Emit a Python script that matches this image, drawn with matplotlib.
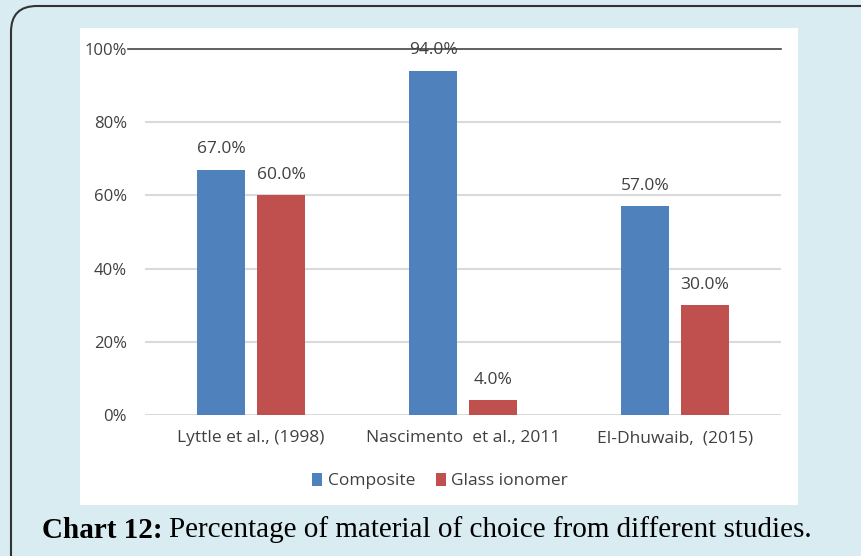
import matplotlib
matplotlib.use("Agg")
import matplotlib.pyplot as plt
from matplotlib.patches import FancyBboxPatch, Rectangle, Patch
import numpy as np

studies = ["Lyttle et al., (1998)", "Nascimento  et al., 2011", "El-Dhuwaib,  (2015)"]
composite = [67.0, 94.0, 57.0]
glass_ionomer = [60.0, 4.0, 30.0]
series_names = ["Composite", "Glass ionomer"]
y_ticks = [0, 20, 40, 60, 80, 100]

blue = "#4F81BD"
red = "#C0504D"
txt = "#404040"
font = "Open Sans"

fig = plt.figure(figsize=(8.62, 5.56), dpi=100)
fig.patch.set_facecolor("#d8ecf1")

# rounded frame running off the right/bottom edge
frame = FancyBboxPatch((11 / 862, -0.05), 1.2, (550 / 556) + 0.05, boxstyle="round,pad=0,rounding_size=0.03",
                       transform=fig.transFigure, facecolor="none", edgecolor="#333333", linewidth=1.5,
                       mutation_aspect=862 / 556, zorder=-2)
fig.patches.append(frame)

# white chart panel
panel = Rectangle((80 / 862, (556 - 505) / 556), 718 / 862, 477 / 556, transform=fig.transFigure,
                  facecolor="white", edgecolor="none", zorder=-1)
fig.patches.append(panel)

ax = fig.add_axes([145 / 862, (556 - 415) / 556, 636 / 862, 366 / 556])
ax.set_facecolor("none")

x = np.arange(len(studies))
w = 0.222
off = 0.1415
b1 = ax.bar(x - off, composite, w, color=blue, zorder=3)
b2 = ax.bar(x + off, glass_ionomer, w, color=red, zorder=3)

for bars, vals in [(b1, composite), (b2, glass_ionomer)]:
    for rect, v in zip(bars, vals):
        ax.annotate(f"{v:.1f}%", (rect.get_x() + rect.get_width() / 2, v), xytext=(0, 9),
                    textcoords="offset points", ha="center", va="bottom", fontsize=12.5,
                    color=txt, family=font, zorder=4)

ax.set_xlim(-0.5, 2.5)
ax.set_ylim(0, 100)
ax.set_yticks(y_ticks)
ax.set_yticklabels([f"{t}%" for t in y_ticks], fontsize=12, color=txt, family=font)
ax.set_xticks(x)
ax.set_xticklabels(studies, fontsize=12.5, color=txt, family=font)
ax.tick_params(axis="y", length=0, pad=13)
ax.tick_params(axis="x", length=0, pad=11)
for s in ax.spines.values():
    s.set_visible(False)

for t in y_ticks[:-1]:
    ax.axhline(t, color="#dadada", linewidth=1.5, zorder=1)
# top line reaches toward the 100% label
ax.plot([-0.58, 2.5], [100, 100], color="#444444", linewidth=1.2, clip_on=False, zorder=2)

handles = [Patch(facecolor=blue), Patch(facecolor=red)]
fig.legend(handles, series_names, loc="center", bbox_to_anchor=(440 / 862, (556 - 481) / 556), ncol=2,
           frameon=False, handlelength=0.6, handleheight=0.8, handletextpad=0.3, columnspacing=1.2,
           prop={"family": font, "size": 12.5}, labelcolor=txt)

# caption with bold lead-in
fig.canvas.draw()
r = fig.canvas.get_renderer()
y_cap = (556 - 530) / 556
t1 = fig.text(42 / 862, y_cap, "Chart 12:", fontsize=21, fontweight="bold", family="Liberation Serif",
              va="center", ha="left", color="black")
bb = t1.get_window_extent(renderer=r)
fig.text(bb.x1 / 862 + 6 / 862, y_cap, "Percentage of material of choice from different studies.",
         fontsize=21, family="Liberation Serif", va="center", ha="left", color="black")

fig.savefig("out.png", dpi=100, facecolor=fig.get_facecolor())
